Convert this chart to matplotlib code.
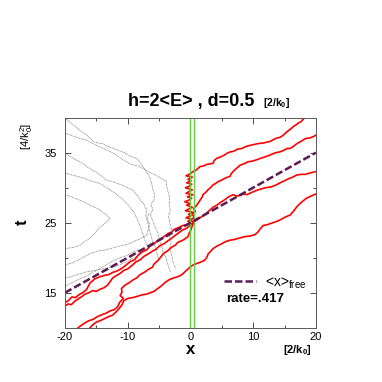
import matplotlib
matplotlib.use('Agg')
import matplotlib.pyplot as plt
from matplotlib.lines import Line2D

plt.rcParams['font.family'] = ['Liberation Sans', 'DejaVu Sans']
plt.rcParams['axes.unicode_minus'] = False
plt.rcParams['mathtext.fontset'] = 'custom'
plt.rcParams['mathtext.rm'] = 'Liberation Sans'
plt.rcParams['mathtext.bf'] = 'Liberation Sans:bold'
plt.rcParams['mathtext.it'] = 'Liberation Sans:italic'
plt.rcParams['mathtext.default'] = 'regular'

# red trajectories (x, t)
curve_a = [(-20.0,13.6),(-19.4,13.9),(-18.9,14.4),(-18.3,14.3),(-17.8,14.7),(-17.2,15.0),(-16.6,15.4),
           (-16.3,15.9),(-16.0,16.4),(-15.6,16.7),(-15.2,17.0),(-14.4,17.3),(-13.6,17.5),(-13.0,17.6),
           (-12.4,17.9),(-11.7,18.1),(-10.9,18.5),(-10.2,19.0),(-9.5,19.5),(-8.9,19.7),(-8.3,20.4),
           (-7.6,20.9),(-7.0,21.1),(-6.5,21.6),(-5.8,22.0),(-5.0,22.6),(-4.4,22.9),(-3.5,23.5),
           (-3.0,23.6),(-2.7,24.0),(-1.9,24.3),(-1.2,24.6),(-0.6,24.7),(0.0,25.0),
           (-0.4,25.2),(0.2,25.5),(-0.7,25.7),(0.1,26.0),(-0.3,26.2),(0.4,26.5),(-0.8,26.7),(-0.2,27.0),
           (0.3,27.2),(-0.6,27.5),(0.0,27.7),(-0.9,28.0),(-0.3,28.2),(0.2,28.5),(-0.5,28.7),(0.4,29.0),
           (-0.7,29.2),(-0.1,29.5),(0.3,29.7),(-0.8,30.0),(-0.2,30.2),(0.2,30.5),(-0.6,30.7),(0.1,31.0),
           (-0.4,31.2),(0.3,31.5),(-0.7,31.7),(0.0,32.0),(0.4,32.3),
           (0.9,32.5),(1.5,33.0),(2.1,33.1),(2.5,33.3),(3.1,33.4),(3.6,33.5),(3.8,33.9),(4.2,34.2),
           (4.8,34.4),(5.3,34.6),(5.8,34.9),(6.3,35.1),(6.9,35.2),(7.5,35.5),(8.2,35.6),(8.9,35.9),
           (9.8,36.1),(10.8,36.3),(11.7,36.4),(12.7,36.6),(13.3,36.9),(13.8,37.1),(14.3,37.2),
           (14.8,37.5),(15.4,38.0),(16.0,38.4),(16.5,38.8),(16.9,39.0),(17.3,39.3),(17.6,39.4),
           (18.0,39.8),(18.4,40.2)]

curve_b = [(-20.0,13.1),(-19.5,13.4),(-19.0,13.3),(-18.4,13.8),(-17.9,14.1),(-17.4,14.4),(-16.8,14.8),
           (-16.2,15.0),(-15.6,15.3),(-15.0,15.2),(-14.4,15.5),(-13.8,15.7),(-13.2,16.1),(-12.8,16.6),
           (-12.4,17.1),(-11.9,17.4),(-11.3,17.7),(-10.6,18.2),(-10.0,18.4),(-9.3,18.9),(-8.7,19.4),
           (-8.0,19.7),(-7.4,20.2),(-6.8,20.5),(-6.1,20.9),(-5.5,21.2),(-4.9,21.7),(-4.2,22.0),
           (-3.6,22.4),(-3.0,22.8),(-2.4,23.2),(-1.8,23.6),(-1.2,24.0),(-0.6,24.2),(-0.1,24.6),
           (0.4,25.0),(0.1,25.4),(0.6,25.8),(0.3,26.2),(0.8,26.6),(0.5,27.0),(1.0,27.5),(1.3,27.9),
           (1.6,28.3),(1.9,28.7),(2.0,29.0),(2.4,29.3),(2.8,29.7),(3.2,30.0),(3.6,30.4),(4.0,30.6),
           (4.5,30.9),(5.0,31.1),(5.4,31.3),(5.9,31.5),(6.3,31.6),(6.5,32.0),(6.9,32.4),(7.4,32.8),
           (7.9,33.2),(8.5,33.4),(9.2,33.7),(9.9,33.8),(10.6,34.0),(11.2,34.2),(11.9,34.4),
           (12.5,34.6),(13.0,34.8),(13.6,35.0),(14.2,35.1),(14.8,35.3),(15.4,35.6),(15.9,35.6),
           (16.4,35.9),(17.0,36.3),(17.6,36.6),(18.3,37.0),(19.0,37.1),(19.6,37.3),(20.0,37.5)]

curve_c = [(-17.9,10.0),(-17.3,10.4),(-16.8,10.7),(-16.2,11.0),(-15.5,11.2),(-14.8,11.6),(-14.0,11.9),
           (-13.4,12.1),(-12.8,12.4),(-12.1,12.6),(-11.6,13.0),(-11.3,13.6),(-10.7,14.2),(-11.2,14.6),
           (-10.9,15.1),(-11.0,15.6),(-10.4,16.1),(-9.8,16.4),(-9.2,16.8),(-8.6,17.1),(-8.0,17.6),
           (-7.2,18.0),(-6.6,18.4),(-6.1,18.6),(-5.8,19.1),(-5.2,19.6),(-4.8,20.0),(-4.3,20.6),
           (-3.6,21.0),(-3.0,21.5),(-2.4,21.8),(-2.0,22.2),(-1.2,22.5),(-0.4,23.0),(-0.2,23.5),
           (0.1,24.0),(0.3,24.6),(0.6,25.1),(1.2,25.5),(2.0,26.0),(2.6,26.4),(3.1,26.8),(3.6,27.2),
           (4.2,27.5),(4.8,27.9),(5.5,28.3),(6.1,28.7),(6.8,29.0),(7.4,28.8),(7.9,28.9),(8.5,29.1),
           (9.0,29.0),(9.7,29.3),(10.5,29.6),(11.2,29.8),(12.0,30.0),(12.8,30.1),(13.7,30.4),
           (14.3,30.7),(15.0,31.0),(15.7,31.3),(16.3,31.5),(16.9,31.8),(17.6,31.9),(18.3,31.9),
           (19.1,32.1),(20.0,32.3)]

curve_d = [(-16.0,10.0),(-15.6,10.4),(-15.0,10.8),(-14.4,11.0),(-13.7,11.3),(-13.0,11.6),(-12.4,11.8),
           (-11.8,12.3),(-11.3,12.8),(-10.9,13.3),(-10.6,13.9),(-9.9,14.2),(-9.2,14.3),(-8.4,14.5),
           (-7.7,14.7),(-7.0,14.8),(-6.4,15.0),(-5.8,15.2),(-5.2,15.6),(-4.6,16.0),(-4.0,16.5),
           (-3.3,16.9),(-2.7,17.1),(-2.0,17.3),(-1.5,17.5),(-1.1,17.8),(-0.5,18.3),(0.0,18.7),
           (0.5,19.0),(1.1,19.2),(1.7,19.4),(2.2,19.6),(2.6,20.0),(2.8,20.5),(3.2,20.9),(3.6,21.3),
           (4.3,21.7),(5.0,22.0),(5.6,22.3),(6.3,22.5),(7.0,22.6),(7.8,22.8),(8.6,23.0),(9.5,23.1),
           (10.3,23.3),(10.8,23.7),(11.1,24.1),(11.6,24.6),(12.2,24.7),(12.8,24.9),(13.5,25.1),
           (14.3,25.4),(15.1,25.8),(15.9,26.1),(16.4,26.6),(16.8,27.1),(17.3,27.6),(17.8,28.0),
           (18.5,28.5),(19.2,28.8),(20.0,29.1)]

# grey (reflected) trajectories
grey_1 = [(-3.2,18.0),(-3.6,19.0),(-3.9,20.0),(-4.4,20.8),(-4.6,21.8),(-5.0,22.7),(-5.2,23.6),(-5.7,24.5),
          (-6.0,25.3),(-6.4,26.1),(-6.0,26.9),(-6.3,27.6),(-5.8,28.3),(-5.7,29.0),(-6.0,29.8),(-6.2,30.7),
          (-6.5,31.5),(-7.0,32.3),(-7.6,33.0),(-8.1,33.7),(-8.6,34.2),(-9.6,34.5),(-10.5,35.0),(-11.4,35.3),
          (-12.3,35.6),(-13.2,35.9),(-14.0,36.3),(-14.8,36.4),(-15.5,36.6),(-16.1,37.1),(-16.6,37.6),
          (-17.2,37.9),(-17.6,38.2),(-18.3,38.7),(-19.0,39.2),(-19.5,39.6),(-20.0,39.9)]
grey_2 = [(-2.4,18.5),(-2.8,19.5),(-3.0,20.5),(-3.3,21.4),(-3.1,22.3),(-3.4,23.2),(-3.0,24.1),(-3.3,25.0),
          (-3.5,25.9),(-3.2,26.8),(-3.4,27.7),(-3.3,28.6),(-3.6,29.5),(-3.8,30.3),(-3.8,30.9),(-4.6,31.3),
          (-5.5,31.8),(-6.5,32.2),(-7.5,32.7),(-8.4,33.1),(-9.3,33.3),(-10.2,33.7),(-11.1,34.2),(-12.0,34.8),
          (-12.9,35.2),(-13.9,35.6),(-14.6,35.9),(-15.3,36.2),(-16.0,36.5),(-16.5,36.8),(-17.5,37.0),
          (-18.5,37.3),(-19.3,37.6),(-20.0,37.8)]
grey_3 = [(-5.0,19.6),(-5.3,20.5),(-5.6,21.5),(-6.0,22.3),(-6.3,23.2),(-6.6,24.1),(-6.8,25.0),(-7.1,26.0),
          (-7.0,26.8),(-7.4,27.6),(-8.0,28.3),(-8.5,28.9),(-9.1,29.6),(-10.0,30.0),(-11.0,30.4),(-12.2,30.8),
          (-13.4,31.1),(-14.2,31.7),(-15.0,32.2),(-15.8,32.6),(-16.5,33.0),(-17.4,33.6),(-18.3,34.0),
          (-19.2,34.5),(-20.0,34.9)]
grey_4 = [(-6.8,21.5),(-7.2,22.4),(-7.6,23.4),(-8.0,24.5),(-8.5,25.5),(-9.0,26.5),(-9.6,27.2),(-10.2,27.8),
          (-11.0,28.5),(-12.0,29.2),(-13.2,29.9),(-14.4,30.6),(-15.2,30.8),(-16.0,31.0),(-16.8,31.3),
          (-17.5,31.5),(-18.4,31.7),(-19.2,31.9),(-20.0,32.1)]
grey_5 = [(-20.0,21.3),(-19.2,21.4),(-18.5,21.5),(-17.6,21.8),(-17.0,22.2),(-16.5,22.5),(-15.9,22.9),
          (-15.5,23.2),(-15.0,23.8),(-14.4,24.4),(-13.6,24.9),(-12.8,25.6),(-13.2,25.9),(-13.5,26.2),
          (-14.0,26.5),(-14.4,26.8),(-15.2,27.2),(-16.0,27.5),(-16.8,27.9),(-17.6,28.2),(-18.5,28.5),
          (-19.3,28.8),(-20.0,29.0)]
grey_6 = [(-20.0,19.0),(-19.0,19.2),(-18.0,19.6),(-17.0,20.1),(-16.0,20.6),(-15.2,20.8),(-14.5,21.0),
          (-13.6,21.1),(-12.8,21.3),(-11.6,21.6),(-10.5,21.8),(-9.8,22.0),(-9.1,22.3),(-8.0,22.7),
          (-7.0,23.2),(-6.7,24.0),(-6.5,24.8),(-6.9,25.6),(-6.6,26.4)]
grey_7 = [(-20.0,17.1),(-19.0,17.3),(-18.0,17.6),(-17.2,17.8),(-16.5,18.0),(-15.0,18.2),(-13.4,18.5),
          (-12.2,18.7),(-11.2,19.0),(-10.2,19.4),(-9.5,19.8),(-8.7,20.1),(-8.0,20.5),(-7.2,21.0),
          (-6.5,21.5),(-5.8,22.0)]
grey_8 = [(-20.0,15.9),(-19.2,16.3),(-18.5,16.6),(-17.6,17.0),(-16.8,17.3),(-15.8,17.8),(-14.8,18.3),
          (-13.6,18.9),(-12.4,19.5),(-11.2,20.0),(-10.2,20.3),(-9.2,20.8),(-8.2,21.1),(-7.3,21.4)]

red_curves = [curve_a, curve_b, curve_c, curve_d]
grey_curves = [grey_1, grey_2, grey_3, grey_4, grey_5, grey_6, grey_7, grey_8]

# free mean position and barrier edges
x_free = [-20, 20]
t_free = [15, 35]
barrier = [0.0, 0.5]
rate = '.417'

fig = plt.figure(figsize=(3.82, 3.82), dpi=100)
ax = fig.add_axes([0.170, 0.142, 0.657, 0.550])

for c in grey_curves:
    xs, ts = zip(*c)
    ax.plot(xs, ts, color='0.4', lw=0.6, ls=(0, (0.8, 0.9)))

for c in red_curves:
    xs, ts = zip(*c)
    ax.plot(xs, ts, color='red', lw=1.2)

for b in barrier:
    ax.axvline(b, color='#66cc44', lw=1.0)

ax.plot(x_free, t_free, color='#5a1a55', lw=1.8, dashes=(3, 1.2))

ax.set_xlim(-20, 20)
ax.set_ylim(10, 40)
ax.set_xticks([-20, -10, 0, 10, 20])
ax.set_xticks([-15, -5, 5, 15], minor=True)
ax.set_yticks([15, 25, 35])
ax.set_yticks([20, 30], minor=True)
ax.tick_params(which='both', direction='in', top=True, right=True, labelsize=8, color='0.3')
ax.tick_params(which='major', length=4, width=0.7)
ax.tick_params(which='minor', length=2.5, width=0.7)
ax.tick_params(axis='x', pad=3)
ax.tick_params(axis='y', pad=6)
for s in ax.spines.values():
    s.set_linewidth(0.7)
    s.set_color('0.35')

leg_handle = Line2D([], [], color='#5a1a55', lw=1.8, dashes=(3, 1.2))
ax.legend([leg_handle], ['<x>$_{free}$'], loc='center left', bbox_to_anchor=(0.633, 0.213),
          frameon=False, borderpad=0, borderaxespad=0, handlelength=2.3, handletextpad=0.7, fontsize=10)
ax.text(0.641, 0.137, 'rate=' + rate, transform=ax.transAxes, fontsize=9.5, weight='bold', va='center')

fig.text(128/382, 1 - 106/382, 'h=2<E> , d=0.5', fontsize=13, weight='bold', va='baseline')
fig.text(263/382, 1 - 106/382, r'$\mathbf{[2/k_0]}$', fontsize=7.5, va='baseline')

fig.text(22/382, 1 - 222/382, 't', fontsize=12, weight='bold', rotation=90, ha='center', va='center')
fig.text(27/382, 1 - 136/382, '[4/k$_0^2$]', fontsize=8, rotation=90, ha='center', va='center')
fig.text(191/382, 1 - 350/382, 'x', fontsize=12, weight='bold', ha='center', va='center')
fig.text(297/382, 1 - 350/382, r'$\mathbf{[2/k_0]}$', fontsize=8, ha='center', va='center')

fig.savefig('out.png', dpi=100)
